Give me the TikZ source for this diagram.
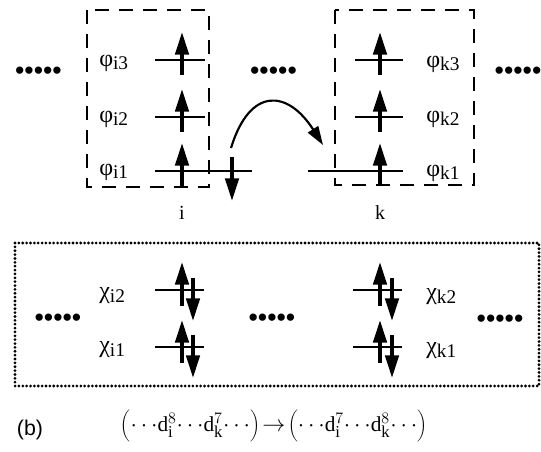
\documentclass[tikz,border=0pt]{standalone}
\usepackage{fontspec}
\setmainfont{Liberation Serif}
\newfontfamily\arialfont{Liberation Sans}
\usetikzlibrary{arrows.meta}
\DeclareMathSizes{16}{16}{12.5}{10}
\newcommand{\orblab}[2]{{\fontsize{18}{18}\selectfont #1}\raisebox{-2.5pt}{\fontsize{14.5}{14.5}\selectfont #2}}
\newcommand{\cd}{{\cdots}}
\begin{document}
\begin{tikzpicture}[x=0.75pt,y=-0.75pt,
  level/.style={line width=1.6pt},
  spinup/.style={line width=2.7pt,-{Triangle[length=17pt,width=10pt]}},
  spindn/.style={line width=2.7pt,-{Triangle[length=17pt,width=10pt]}},
  hop/.style={line width=1.6pt,-{Triangle[length=14pt,width=9pt]}},
  dashbox/.style={line width=1.6pt,dash pattern=on 10.5pt off 7.5pt},
  dotbox/.style={line width=2.3pt,dash pattern=on 0pt off 2.9pt,line cap=round},
  orb/.style={anchor=west,inner sep=0pt},
  dots/.style={inner sep=0pt,font=\arialfont\fontsize{20}{20}\selectfont},
  site/.style={inner sep=0pt,font=\fontsize{15}{15}\selectfont}
]
\useasboundingbox (0,0) rectangle (541,452);
% boxes
\draw[dashbox] (87,10) rectangle (209,187);
\draw[dashbox] (335,10) rectangle (474,185);
\draw[dotbox] (15,243) rectangle (539,386);
% ellipses
\node[dots] (d1) at (38.5,73) {•••••};
\node[dots] (d2) at (273.5,73) {•••••};
\node[dots] (d3) at (518,73) {•••••};
\node[dots] (d4) at (58,320) {•••••};
\node[dots] (d5) at (272,320) {•••••};
\node[dots] (d6) at (500,321) {•••••};
% site i levels
\draw[level] (155,60) coordinate (i3a) -- (205,60) coordinate (i3b);
\draw[level] (155,117) coordinate (i2a) -- (205,117) coordinate (i2b);
\draw[level] (155,171) coordinate (i1a) -- (252,171) coordinate (i1b);
\coordinate (ui3s) at (182,75); \coordinate (ui3e) at (182,32);
\coordinate (ui2s) at (182,132); \coordinate (ui2e) at (182,89);
\coordinate (ui1s) at (182,188); \coordinate (ui1e) at (182,143);
\draw[spinup] (ui3s) -- (ui3e);
\draw[spinup] (ui2s) -- (ui2e);
\draw[spinup] (ui1s) -- (ui1e);
\coordinate (di1s) at (232,157); \coordinate (di1e) at (232,201);
\draw[spindn] (di1s) -- (di1e);
\node[orb] (phi3) at (99,63) {\orblab{φ}{i3}};
\node[orb] (phi2) at (99,119) {\orblab{φ}{i2}};
\node[orb] (phi1) at (99,172) {\orblab{φ}{i1}};
% site k levels
\draw[level] (355,60) coordinate (k3a) -- (403,60) coordinate (k3b);
\draw[level] (355,117) coordinate (k2a) -- (403,117) coordinate (k2b);
\draw[level] (308,171) coordinate (k1a) -- (403,171) coordinate (k1b);
\coordinate (uk3s) at (380,75); \coordinate (uk3e) at (380,32);
\coordinate (uk2s) at (380,132); \coordinate (uk2e) at (380,89);
\coordinate (uk1s) at (380,186); \coordinate (uk1e) at (380,143);
\draw[spinup] (uk3s) -- (uk3e);
\draw[spinup] (uk2s) -- (uk2e);
\draw[spinup] (uk1s) -- (uk1e);
\node[orb] (phk3) at (426,64) {\orblab{φ}{k3}};
\node[orb] (phk2) at (426,119) {\orblab{φ}{k2}};
\node[orb] (phk1) at (426,173) {\orblab{φ}{k1}};
% hopping arrow
\coordinate (hs) at (231,148);
\coordinate (he) at (323,145);
\draw[hop] (hs) .. controls (250,86) and (288,90) .. (he);
% site labels
\node[site] (si) at (182,213) {i};
\node[site] (sk) at (380,213) {k};
% lower box levels
\draw[level] (155,290) coordinate (x2a) -- (204,290) coordinate (x2b);
\draw[level] (155,347) coordinate (x1a) -- (204,347) coordinate (x1b);
\draw[spinup] (182,306) coordinate (xu2s) -- (182,262) coordinate (xu2e);
\draw[spindn] (193,278) coordinate (xd2s) -- (193,321) coordinate (xd2e);
\draw[spinup] (182,363) coordinate (xu1s) -- (182,320) coordinate (xu1e);
\draw[spindn] (193,335) coordinate (xd1s) -- (193,378) coordinate (xd1e);
\node[orb] (chi2) at (99,296) {\orblab{χ}{i2}};
\node[orb] (chi1) at (99,350) {\orblab{χ}{i1}};
\draw[level] (353,290) coordinate (y2a) -- (402,290) coordinate (y2b);
\draw[level] (353,347) coordinate (y1a) -- (402,347) coordinate (y1b);
\draw[spinup] (380,306) coordinate (yu2s) -- (380,262) coordinate (yu2e);
\draw[spindn] (392,278) coordinate (yd2s) -- (392,321) coordinate (yd2e);
\draw[spinup] (380,363) coordinate (yu1s) -- (380,320) coordinate (yu1e);
\draw[spindn] (392,335) coordinate (yd1s) -- (392,378) coordinate (yd1e);
\node[orb] (chk2) at (426,297) {\orblab{χ}{k2}};
\node[orb] (chk1) at (426,351) {\orblab{χ}{k1}};
% caption
\node[inner sep=0pt,font=\arialfont\fontsize{16}{16}\selectfont] (b) at (30,430) {(b)};
\node[inner sep=0pt,font=\fontsize{16}{16}\selectfont] (eq) at (274,426)
  {$\biggl(\cd\mathrm{d}_{\mathrm{i}}^{8}\cd\mathrm{d}_{\mathrm{k}}^{7}\cd\biggr)\!\rightarrow\!\biggl(\cd\mathrm{d}_{\mathrm{i}}^{7}\cd\mathrm{d}_{\mathrm{k}}^{8}\cd\biggr)$};
\end{tikzpicture}
\end{document}
